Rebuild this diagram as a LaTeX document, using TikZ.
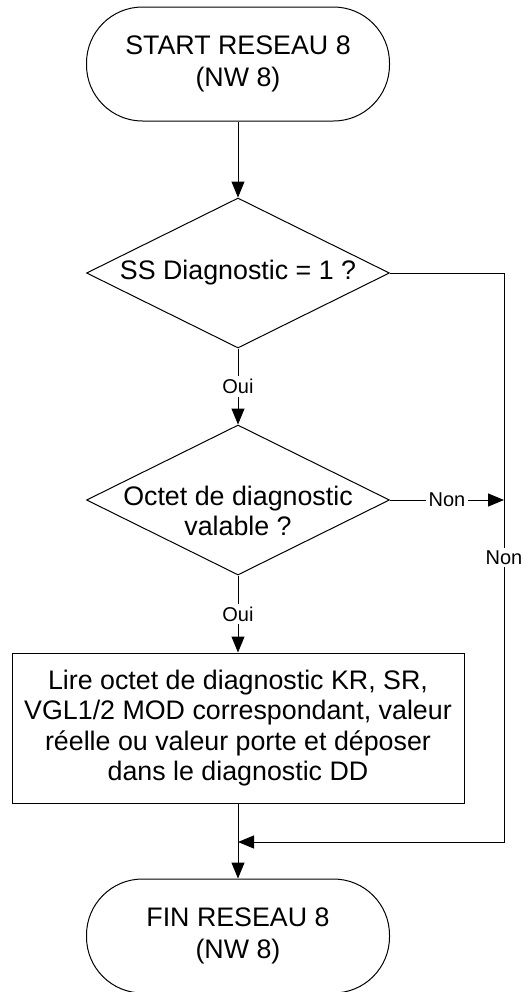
\documentclass[tikz,border=0pt]{standalone}
\usepackage{fontspec}
\setmainfont{Liberation Sans}
\usetikzlibrary{positioning,shapes.geometric,arrows.meta}

\begin{document}
\begin{tikzpicture}[x=0.5pt, y=-0.5pt, line width=0.5pt,
  term/.style={draw, rectangle, rounded corners=28pt, minimum width=151.5pt, minimum height=57pt, inner sep=0pt, align=center, font=\fontsize{13.4}{16}\selectfont},
  test/.style={draw, diamond, aspect=2, minimum width=151.5pt, minimum height=75pt, inner sep=0pt},
  txt/.style={align=center, inner sep=0pt, font=\fontsize{13.4}{14.8}\selectfont},
  act/.style={draw, rectangle, minimum width=226pt, minimum height=75pt, inner sep=0pt, align=center, font=\fontsize{13.4}{15.3}\selectfont},
  lbl/.style={fill=white, inner sep=1.5pt, font=\fontsize{10}{12}\selectfont},
  arr/.style={-{Triangle[length=8pt, width=6.5pt]}}]
  \useasboundingbox (0,0) rectangle (525,992);
  % ------------------------------------------------------------ blocks
  \node[term] (start) at (238,64) {START RESEAU 8\\(NW 8)};
  \node[test] (q1) at (238,273) {};
  \node[txt] (q1txt) at (q1) {SS Diagnostic = 1 ?};
  \node[test] (q2) at (238,500) {};
  \node[txt] (q2txt) at (238,511) {Octet de diagnostic\\valable ?};
  \node[act] (read) at (238,728) {Lire octet de diagnostic KR, SR,\\VGL1/2 MOD correspondant, valeur\\r\'eelle ou valeur porte et d\'eposer\\dans le diagnostic DD};
  \node[term] (stop) at (238,936) {FIN RESEAU 8\\(NW 8)};
  \coordinate (rail) at (504,273);
  \coordinate (join) at (238,842);
  % ------------------------------------------------------------ main flow
  \draw[arr] (start) -- (q1);
  \draw[arr] (q1) -- node[lbl] {Oui} (q2);
  \draw[arr] (q2) -- node[lbl] {Oui} (read);
  \draw[arr] (read) -- (stop);
  % ------------------------------------------------------------ bypass
  \draw[arr] (q2.east) -- node[lbl] {Non} (q2.east -| rail);
  \draw[arr] (q1.east) -- (rail) -- node[lbl] {Non} (rail |- join) -- (join);
\end{tikzpicture}
\end{document}
